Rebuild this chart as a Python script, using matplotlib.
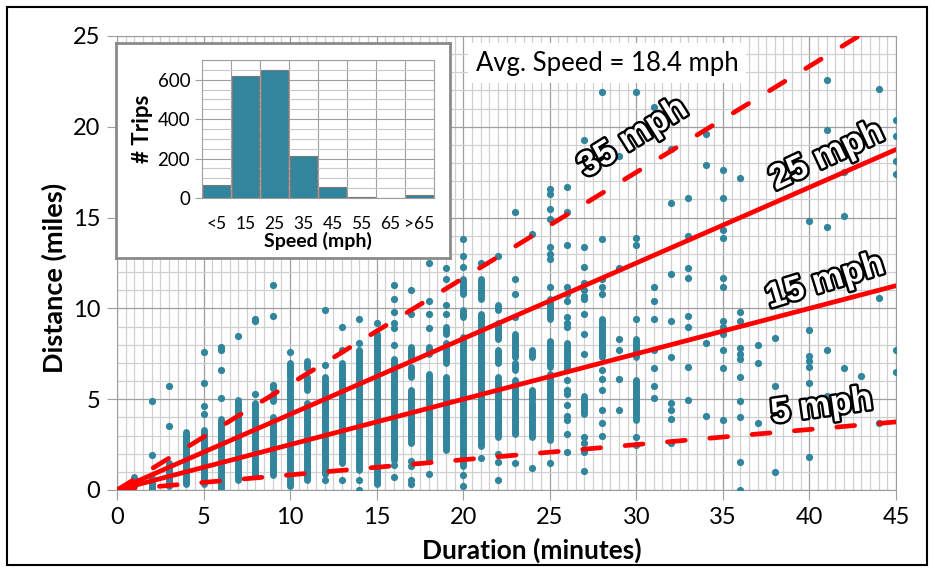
import numpy as np
import matplotlib
matplotlib.use("Agg")
import matplotlib.pyplot as plt
import matplotlib.patheffects as pe
from matplotlib.ticker import MultipleLocator
from matplotlib.patches import Rectangle

plt.rcParams['font.family'] = ['Lato', 'DejaVu Sans']

# dense runs of trips (minute, low miles, high miles) - columns look solid
run_min = [1, 2, 3, 4, 5, 6, 7, 8, 9, 9, 10, 10, 11, 11, 11, 12, 13, 14, 15, 16,
           17, 17, 17, 18, 18, 19, 19, 19, 20, 20, 20, 21, 21, 22, 22, 22, 22,
           23, 23, 23, 24, 24, 24, 25, 25, 25, 26, 27, 28, 30, 30]
run_lo = [0.2, 0.0, 0.2, 0.35, 0.35, 0.0, 0.55, 0.75, 0.8, 4.9, 0.2, 6.2, 0.55, 5.5, 6.7,
          0.9, 1.5, 1.1, 0.35, 1.65, 2.6, 6.2, 7.2, 1.65, 7.5, 2.2, 7.0, 8.6,
          1.3, 9.5, 10.8, 2.4, 10.5, 2.9, 7.0, 8.3, 9.9, 3.1, 6.6, 7.3,
          2.9, 4.95, 7.3, 2.75, 6.8, 9.4, 6.6, 4.2, 7.3, 3.85, 7.3]
run_hi = [0.7, 0.65, 1.5, 3.2, 3.3, 3.9, 4.95, 4.8, 4.0, 5.3, 6.05, 7.0, 4.8, 6.2, 7.1,
          6.2, 7.0, 7.7, 8.6, 7.2, 5.5, 6.8, 7.9, 6.4, 7.9, 6.2, 8.1, 9.0,
          8.4, 9.9, 11.6, 9.7, 11.6, 6.2, 7.7, 9.2, 10.2, 6.05, 7.0, 8.6,
          4.8, 5.5, 7.7, 6.4, 8.2, 10.5, 8.1, 5.2, 9.4, 6.05, 8.3]

# single trips (duration in minutes, distance in miles)
dur = ([1, 1] + [2, 2] + [3, 3] + [5] * 4 + [6] * 4 + [7] + [8] * 3 + [9] * 4 + [10]
       + [12] * 3 + [13] * 3 + [14] * 4 + [15] + [16] * 8 + [17] * 6 + [18] * 5
       + [19] * 4 + [20] * 5 + [21] * 2 + [22] * 4 + [23] * 5 + [24] * 2 + [25] * 9
       + [26] * 17 + [27] * 14 + [28] * 11 + [29] * 6 + [30] * 6 + [31] * 8
       + [32] * 9 + [33] * 8 + [34] * 4 + [35] * 12 + [36] * 11 + [37] * 3
       + [38] * 3 + [40] * 7 + [41] * 5 + [42] * 3 + [43] + [44] * 3 + [45] * 6)
dist = ([0.6, 0.3] + [4.9, 1.9] + [5.7, 3.5] + [7.6, 5.9, 4.6, 4.2]
        + [7.9, 7.7, 6.6, 5.05] + [8.5] + [9.4, 9.3, 5.3] + [11.3, 9.6, 5.8, 5.6] + [7.6]
        + [9.9, 6.9, 0.55] + [9.0, 7.7, 0.55] + [9.4, 8.1, 0.55, 0.0] + [9.2]
        + [11.3, 10.5, 9.8, 9.2, 8.9, 8.0, 1.4, 0.7]
        + [11.0, 9.7, 1.6, 1.3, 0.55, 0.35]
        + [12.5, 10.4, 9.7, 8.9, 0.9]
        + [12.2, 11.6, 10.2, 9.7]
        + [13.8, 12.9, 12.3, 0.8, 0.2]
        + [12.5, 1.75]
        + [12.9, 2.0, 1.55, 0.55]
        + [15.3, 11.6, 10.8, 9.5, 1.5]
        + [14.1, 1.2]
        + [16.6, 16.3, 15.5, 14.9, 13.4, 13.0, 12.7, 11.2, 1.5]
        + [16.7, 15.3, 13.5, 11.2, 10.8, 10.4, 9.5, 9.2, 9.0, 6.05, 5.5, 5.3, 4.7,
           4.1, 3.85, 3.1, 2.1]
        + [19.3, 13.4, 12.3, 11.4, 11.0, 10.7, 10.5, 9.7, 8.6, 7.5, 2.9, 2.6, 2.1, 1.05]
        + [21.9, 13.8, 11.6, 11.2, 10.8, 6.6, 6.1, 5.5, 4.4, 3.7, 3.0]
        + [18.4, 12.2, 8.3, 7.7, 6.1, 4.4]
        + [21.9, 13.9, 13.5, 9.4, 2.9, 2.5]
        + [21.1, 11.2, 10.4, 9.4, 7.7, 6.7, 5.7, 5.05]
        + [18.8, 15.8, 11.9, 9.3, 7.3, 4.8, 4.4, 3.9, 2.6]
        + [16.1, 14.0, 12.2, 11.7, 9.6, 9.0, 6.8, 4.95]
        + [19.6, 17.9, 8.1, 4.1]
        + [17.6, 16.1, 14.3, 13.9, 11.65, 11.2, 9.3, 9.0, 8.6, 7.7, 6.7, 3.85]
        + [17.2, 9.8, 9.3, 7.8, 7.5, 7.2, 6.2, 4.9, 4.0, 1.55, 0.0]
        + [8.0, 7.0, 3.7]
        + [8.35, 5.7, 1.0]
        + [14.8, 8.8, 7.4, 7.1, 6.8, 5.9, 1.8]
        + [22.6, 19.8, 14.5, 7.7, 5.2]
        + [17.5, 15.1, 6.7]
        + [6.3]
        + [22.1, 10.6, 3.7]
        + [20.4, 19.5, 18.1, 17.4, 7.7, 6.5])

# reference speed lines
speeds = [5, 15, 25, 35]
speed_styles = ['dash', 'solid', 'solid', 'dash']
speed_labels = ['5 mph', '15 mph', '25 mph', '35 mph']
label_x = [40.7, 40.9, 41.0, 29.8]
label_y = [4.6, 11.5, 18.4, 19.4]
label_rot = [8, 17, 25, 32]

# histogram inset
hist_cats = ['<5', '15', '25', '35', '45', '55', '65', '>65']
hist_vals = [65, 620, 649, 211, 54, 7, 0, 14]

teal = '#31859c'
W, H = 935, 571
fig = plt.figure(figsize=(W / 100, H / 100), dpi=100)
fig.patch.set_facecolor('white')


def fx(px):
    return px / W


def fy(py):
    return 1 - py / H


ax = fig.add_axes([fx(117), fy(490), fx(896) - fx(117), fy(36) - fy(490)])
ax.set_xlim(0, 45)
ax.set_ylim(0, 25)
ax.xaxis.set_major_locator(MultipleLocator(5))
ax.yaxis.set_major_locator(MultipleLocator(5))
ax.xaxis.set_minor_locator(MultipleLocator(0.5))
ax.yaxis.set_minor_locator(MultipleLocator(1))
ax.grid(which='minor', color='#d0d0d0', lw=0.9)
ax.grid(which='major', color='#9e9e9e', lw=0.9)
ax.set_axisbelow(True)
ax.tick_params(which='minor', length=0)
ax.tick_params(which='major', length=7, color='#9e9e9e', labelsize=17, pad=5)
for s in ax.spines.values():
    s.set_color('#9e9e9e')
ax.set_xlabel('Duration (minutes)', fontsize=19, fontweight='bold', labelpad=7, x=0.532)
ax.set_ylabel('Distance (miles)', fontsize=19.5, fontweight='bold', labelpad=4, y=0.467)

ax.vlines(run_min, run_lo, run_hi, color=teal, lw=5, capstyle='round', zorder=3)
ax.scatter(dur, dist, s=27, color=teal, lw=0, zorder=3)

t = np.array([0, 45])
for v, st in zip(speeds, speed_styles):
    ln, = ax.plot(t, v * t / 60, color='#ff0000', lw=3.4, zorder=4,
                  solid_capstyle='round', dash_capstyle='round')
    if st == 'dash':
        ln.set_dashes([3.8, 5.2])

for lab, x, y, r in zip(speed_labels, label_x, label_y, label_rot):
    ax.text(x, y, lab, rotation=r, ha='center', va='center', fontsize=25,
            fontweight='bold', family='Liberation Sans', color='white', zorder=6,
            rotation_mode='anchor',
            path_effects=[pe.Stroke(linewidth=3.5, foreground='black'), pe.Normal()])

# inset frame
box = fig.add_axes([fx(116), fy(258), fx(450) - fx(116), fy(43) - fy(258)])
box.set_xticks([])
box.set_yticks([])
for s in box.spines.values():
    s.set_color('#8a8a8a')
    s.set_linewidth(2)

ins = fig.add_axes([fx(202), fy(198), fx(434) - fx(202), fy(60) - fy(198)])
xpos = np.arange(len(hist_cats))
ins.bar(xpos, hist_vals, width=0.96, color=teal, edgecolor='#7a7a7a', lw=0.8, zorder=3)
ins.set_xlim(-0.5, len(hist_cats) - 0.5)
ins.set_ylim(0, 700)
ins.set_xticks(xpos)
ins.set_xticklabels(hist_cats)
ins.set_xticks(xpos[:-1] + 0.5, minor=True)
ins.yaxis.set_major_locator(MultipleLocator(200))
ins.yaxis.set_minor_locator(MultipleLocator(50))
ins.grid(which='minor', color='#c8c8c8', lw=0.8)
ins.grid(which='major', axis='y', color='#9e9e9e', lw=0.8)
ins.xaxis.grid(False, which='major')
ins.xaxis.grid(True, which='minor', color='#9e9e9e', lw=0.8)
ins.set_axisbelow(True)
ins.tick_params(which='minor', length=0)
ins.tick_params(axis='x', length=0, labelsize=12.5, pad=13)
ins.tick_params(axis='y', length=5, color='#9e9e9e', labelsize=13.5)
for s in ins.spines.values():
    s.set_color('#9e9e9e')
ins.set_xlabel('Speed (mph)', fontsize=14, fontweight='bold', labelpad=0)
ins.set_ylabel('# Trips', fontsize=16, fontweight='bold', labelpad=3)

fig.text(fx(607), fy(63), 'Avg. Speed = 18.4 mph', fontsize=18.5, ha='center', va='center',
         bbox=dict(boxstyle='square,pad=0.3', fc='white', ec='none'))

fig.patches.append(Rectangle((fx(7), fy(565)), fx(927) - fx(7), fy(7) - fy(565),
                             transform=fig.transFigure, fill=False, ec='black', lw=1.5))

fig.savefig('out.png', dpi=100)
